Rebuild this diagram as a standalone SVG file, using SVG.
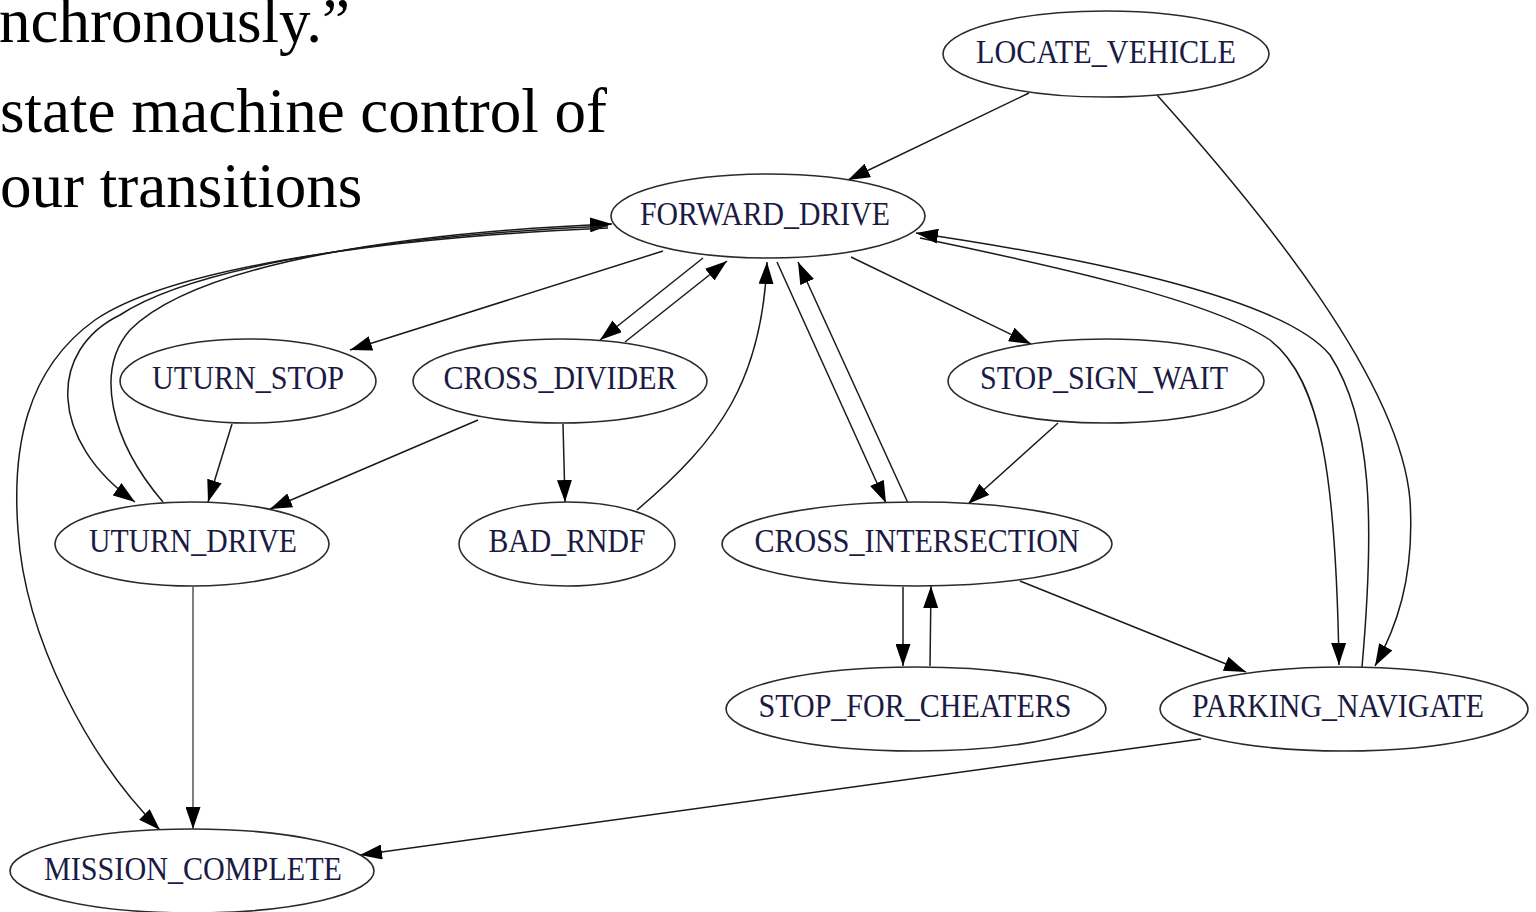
<svg xmlns="http://www.w3.org/2000/svg" width="1536" height="912" viewBox="0 0 1536 912">
<style>
.bg{fill:#ffffff}
.node ellipse{fill:#ffffff;stroke:#2a2a2a;stroke-width:1.6}
.node text{font-family:"Liberation Serif","Times New Roman",serif;font-size:33px;fill:#1a1a44;text-anchor:middle}
.edge{fill:none;stroke:#1a1a1a;stroke-width:1.5;marker-end:url(#ah)}
.slide{font-family:"Liberation Serif","Times New Roman",serif;font-size:63px;fill:#000000}
</style>
<defs>
<marker id="ah" viewBox="0 0 22 15" refX="22" refY="7.5" markerWidth="22" markerHeight="15" markerUnits="userSpaceOnUse" orient="auto">
<path d="M0,0 L22,7.5 L0,15 z" fill="#000000"/>
</marker>
</defs>
<rect class="bg" x="0" y="0" width="1536" height="912"/>
<text class="slide" x="-1" y="42">nchronously.”</text>
<text class="slide" x="0" y="132">state machine control of</text>
<text class="slide" x="0" y="207">our transitions</text>

<g id="connectors">
<path class="edge" d="M1029,93 L848,180"/>
<path class="edge" d="M1157,95 C1260,210 1400,380 1410,500 C1415,580 1395,630 1375,666"/>
<path class="edge" d="M663,251 L350,350"/>
<path class="edge" d="M703,258 L600,340"/>
<path class="edge" d="M625,342 L727,261"/>
<path class="edge" d="M637,510 C720,440 762,380 767,262"/>
<path class="edge" d="M777,262 L886,503"/>
<path class="edge" d="M908,503 L798,262"/>
<path class="edge" d="M851,257 L1031,344"/>
<path class="edge" d="M920,238 C1050,265 1210,300 1270,340 C1322,380 1336,480 1339,665"/>
<path class="edge" d="M1362,667 C1375,520 1372,420 1330,355 C1285,300 1100,260 916,233"/>
<path class="edge" d="M163,502 C110,440 95,370 130,330 C200,260 420,232 612,224"/>
<path class="edge" d="M608,226 C420,234 200,262 120,315 C48,350 48,440 135,502"/>
<path class="edge" d="M608,228 C420,236 180,262 95,320 C25,370 12,450 18,530 C25,640 90,760 160,830"/>
<path class="edge" d="M232,424 L208,502"/>
<path class="edge" d="M478,420 L270,509"/>
<path class="edge" d="M563,424 L565,502"/>
<path class="edge" d="M1058,423 L968,504"/>
<path class="edge" d="M903,587 L903,666"/>
<path class="edge" d="M930,666 L931,586"/>
<path class="edge" d="M1020,581 L1246,672"/>
<path class="edge" d="M1201,739 L360,855"/>
<path class="edge" d="M193,587 L193,829" style="stroke:#555555"/>
</g>

<g id="LOCATE_VEHICLE" class="node"><ellipse cx="1106" cy="54" rx="163" ry="43"/><text x="1106" y="63" textLength="260" lengthAdjust="spacingAndGlyphs">LOCATE_VEHICLE</text></g>
<g id="FORWARD_DRIVE" class="node"><ellipse cx="768" cy="216" rx="157" ry="42"/><text x="765" y="225" textLength="250" lengthAdjust="spacingAndGlyphs">FORWARD_DRIVE</text></g>
<g id="UTURN_STOP" class="node"><ellipse cx="248" cy="381" rx="128" ry="42"/><text x="248" y="389" textLength="192" lengthAdjust="spacingAndGlyphs">UTURN_STOP</text></g>
<g id="CROSS_DIVIDER" class="node"><ellipse cx="560" cy="381" rx="147" ry="42"/><text x="560" y="389" textLength="233" lengthAdjust="spacingAndGlyphs">CROSS_DIVIDER</text></g>
<g id="STOP_SIGN_WAIT" class="node"><ellipse cx="1106" cy="381" rx="158" ry="42"/><text x="1104" y="389" textLength="248" lengthAdjust="spacingAndGlyphs">STOP_SIGN_WAIT</text></g>
<g id="UTURN_DRIVE" class="node"><ellipse cx="192" cy="544" rx="137" ry="42"/><text x="193" y="552" textLength="208" lengthAdjust="spacingAndGlyphs">UTURN_DRIVE</text></g>
<g id="BAD_RNDF" class="node"><ellipse cx="567" cy="544" rx="108" ry="42"/><text x="567" y="552" textLength="157" lengthAdjust="spacingAndGlyphs">BAD_RNDF</text></g>
<g id="CROSS_INTERSECTION" class="node"><ellipse cx="917" cy="544" rx="195" ry="42"/><text x="917" y="552" textLength="325" lengthAdjust="spacingAndGlyphs">CROSS_INTERSECTION</text></g>
<g id="STOP_FOR_CHEATERS" class="node"><ellipse cx="916" cy="709" rx="190" ry="42"/><text x="915" y="717" textLength="313" lengthAdjust="spacingAndGlyphs">STOP_FOR_CHEATERS</text></g>
<g id="PARKING_NAVIGATE" class="node"><ellipse cx="1344" cy="709" rx="184" ry="42"/><text x="1338" y="717" textLength="292" lengthAdjust="spacingAndGlyphs">PARKING_NAVIGATE</text></g>
<g id="MISSION_COMPLETE" class="node"><ellipse cx="192" cy="871" rx="182" ry="42"/><text x="193" y="880" textLength="298" lengthAdjust="spacingAndGlyphs">MISSION_COMPLETE</text></g>
</svg>
